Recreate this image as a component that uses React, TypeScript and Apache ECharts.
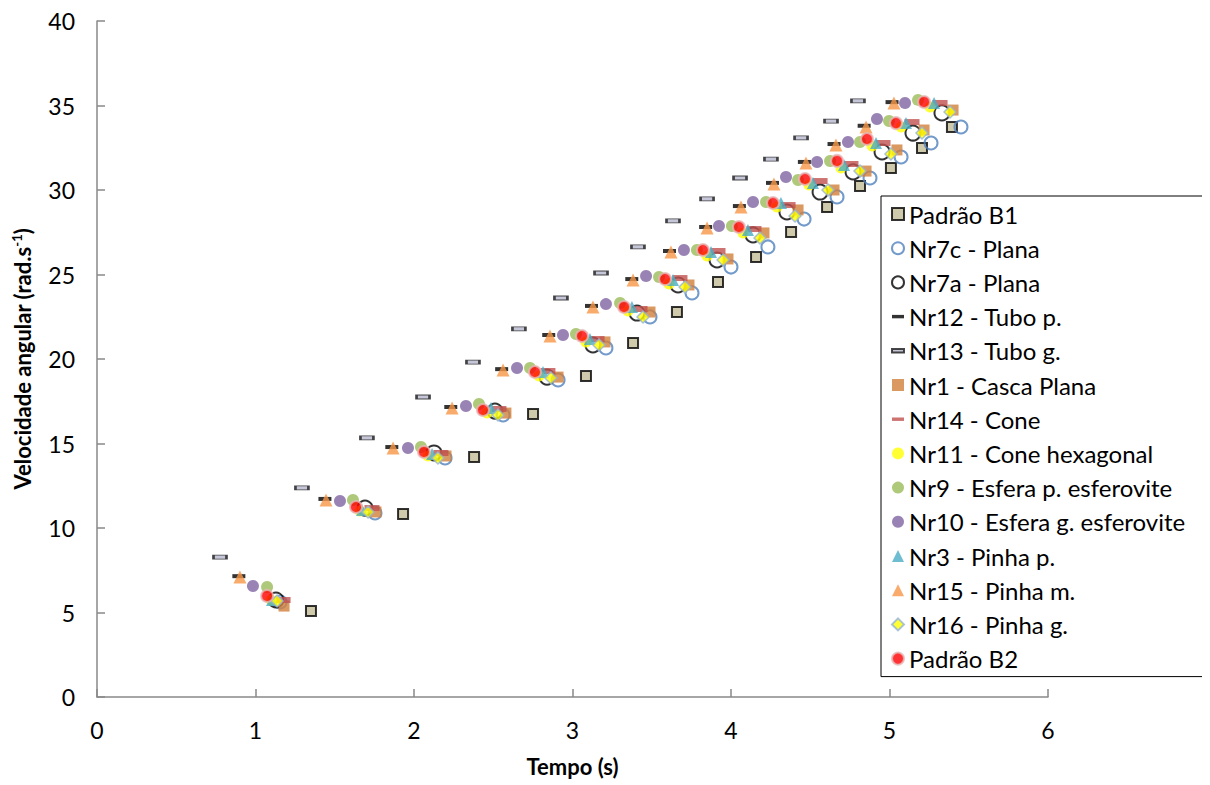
import React, { useEffect, useRef } from "react";
import * as echarts from "echarts";

const xTicks = [0, 1, 2, 3, 4, 5, 6];
const yTicks = [0, 5, 10, 15, 20, 25, 30, 35, 40];

const padraoB1 = [[1.35, 5.09], [1.931, 10.83], [2.379, 14.2], [2.751, 16.75], [3.085, 18.99], [3.382, 20.95], [3.659, 22.78], [3.918, 24.56], [4.158, 26.04], [4.379, 27.51], [4.606, 28.99], [4.814, 30.24], [5.009, 31.3], [5.205, 32.49], [5.394, 33.73]];
const nr7c = [[1.155, 5.62], [1.754, 10.89], [2.196, 14.14], [2.562, 16.69], [2.909, 18.76], [3.211, 20.65], [3.489, 22.49], [3.754, 23.91], [4.0, 25.44], [4.233, 26.63], [4.461, 28.28], [4.669, 29.59], [4.877, 30.71], [5.073, 31.95], [5.262, 32.78], [5.451, 33.73]];
const nr7a = [[1.129, 5.74], [1.691, 11.18], [2.126, 14.44], [2.511, 16.92], [2.839, 18.93], [3.129, 20.83], [3.407, 22.72], [3.666, 24.38], [3.912, 25.86], [4.139, 27.34], [4.353, 28.7], [4.562, 29.88], [4.77, 31.07], [4.953, 32.25], [5.148, 33.37], [5.331, 34.56]];
const nr12 = [[0.895, 7.15], [1.438, 11.72], [1.86, 14.79], [2.232, 17.16], [2.553, 19.4], [2.85, 21.42], [3.12, 23.14], [3.374, 24.73], [3.612, 26.39], [3.84, 27.81], [4.053, 29.05], [4.262, 30.42], [4.463, 31.66], [4.65, 32.72], [4.84, 33.8], [5.016, 35.2]];
const nr13 = [[0.776, 8.28], [1.293, 12.37], [1.703, 15.33], [2.057, 17.75], [2.372, 19.82], [2.662, 21.78], [2.927, 23.61], [3.18, 25.09], [3.413, 26.63], [3.634, 28.17], [3.849, 29.47], [4.057, 30.71], [4.252, 31.83], [4.442, 33.08], [4.631, 34.08], [4.801, 35.27]];
const nr1 = [[1.18, 5.38], [1.76, 10.95], [2.202, 14.26], [2.58, 16.8], [2.909, 18.93], [3.205, 21.01], [3.489, 22.78], [3.735, 24.38], [3.981, 25.92], [4.208, 27.46], [4.423, 28.82], [4.65, 30.0], [4.852, 31.12], [5.047, 32.37], [5.218, 33.55], [5.401, 34.73]];
const nr14 = [[1.174, 5.74], [1.735, 11.18], [2.17, 14.44], [2.536, 17.04], [2.845, 19.29], [3.155, 21.18], [3.426, 22.96], [3.678, 24.79], [3.918, 26.39], [4.145, 27.69], [4.36, 29.11], [4.562, 30.53], [4.757, 31.54], [4.959, 32.78], [5.142, 34.02], [5.319, 35.15]];
const nr11 = [[1.098, 5.74], [1.659, 11.0], [2.088, 14.26], [2.461, 16.8], [2.789, 19.0], [3.085, 21.0], [3.35, 22.84], [3.609, 24.44], [3.849, 26.09], [4.076, 27.46], [4.29, 29.0], [4.492, 30.3], [4.694, 31.3], [4.89, 32.6], [5.073, 33.73], [5.256, 34.91]];
const nr9 = [[1.073, 6.51], [1.615, 11.66], [2.044, 14.79], [2.41, 17.34], [2.732, 19.47], [3.022, 21.48], [3.3, 23.31], [3.546, 24.85], [3.785, 26.45], [4.006, 27.87], [4.221, 29.29], [4.423, 30.59], [4.625, 31.72], [4.814, 32.84], [4.997, 34.08], [5.18, 35.33]];
const nr10 = [[0.984, 6.57], [1.533, 11.6], [1.962, 14.73], [2.328, 17.22], [2.65, 19.47], [2.94, 21.42], [3.211, 23.25], [3.464, 24.91], [3.703, 26.45], [3.924, 27.87], [4.139, 29.29], [4.347, 30.77], [4.543, 31.66], [4.738, 32.84], [4.921, 34.2], [5.098, 35.15]];
const nr3 = [[1.104, 5.74], [1.672, 11.07], [2.114, 14.38], [2.486, 17.1], [2.814, 19.23], [3.11, 21.18], [3.375, 23.08], [3.634, 24.67], [3.874, 26.33], [4.107, 27.63], [4.315, 29.23], [4.517, 30.41], [4.713, 31.48], [4.915, 32.78], [5.104, 33.96], [5.281, 35.15]];
const nr15 = [[0.902, 7.1], [1.445, 11.66], [1.868, 14.73], [2.24, 17.1], [2.562, 19.35], [2.858, 21.36], [3.129, 23.08], [3.382, 24.67], [3.621, 26.33], [3.849, 27.75], [4.063, 28.99], [4.271, 30.36], [4.473, 31.6], [4.662, 32.66], [4.852, 33.73], [5.028, 35.15]];
const nr16 = [[1.136, 5.68], [1.71, 10.95], [2.151, 14.14], [2.53, 16.69], [2.864, 18.88], [3.167, 20.83], [3.445, 22.49], [3.71, 24.26], [3.95, 25.86], [4.183, 27.16], [4.404, 28.46], [4.612, 30.0], [4.814, 31.12], [5.009, 32.13], [5.205, 33.37], [5.382, 34.62]];
const padraoB2 = [[1.073, 5.98], [1.634, 11.24], [2.063, 14.5], [2.435, 16.98], [2.763, 19.23], [3.06, 21.36], [3.325, 23.08], [3.584, 24.73], [3.823, 26.45], [4.05, 27.81], [4.265, 29.23], [4.467, 30.65], [4.669, 31.72], [4.858, 33.02], [5.041, 33.96], [5.218, 35.21]];

const seriesNames = [
  "Padrão B1",
  "Nr7c - Plana",
  "Nr7a - Plana",
  "Nr12 - Tubo p.",
  "Nr13 - Tubo g.",
  "Nr1 - Casca Plana",
  "Nr14 - Cone",
  "Nr11 - Cone hexagonal",
  "Nr9 - Esfera p. esferovite",
  "Nr10 - Esfera g. esferovite",
  "Nr3 - Pinha p.",
  "Nr15 - Pinha m.",
  "Nr16 - Pinha g.",
  "Padrão B2",
];

const seriesData = [padraoB1, nr7c, nr7a, nr12, nr13, nr1, nr14, nr11, nr9, nr10, nr3, nr15, nr16, padraoB2];

const dashIcon = "path://M0,0 L14,0 L14,4 L0,4 Z";

const styles: any[] = [
  { symbol: "rect", symbolSize: 10, itemStyle: { color: "#c4bd97", borderColor: "#000", borderWidth: 2 } },
  { symbol: "circle", symbolSize: 13, itemStyle: { color: "rgba(255,255,255,0)", borderColor: "#4f81bd", borderWidth: 2 } },
  { symbol: "circle", symbolSize: 15, itemStyle: { color: "rgba(255,255,255,0)", borderColor: "#000", borderWidth: 2 } },
  { symbol: "rect", symbolSize: [13, 4], itemStyle: { color: "#000" }, icon: dashIcon },
  { symbol: "rect", symbolSize: [13, 4], itemStyle: { color: "#b8b8d0", borderColor: "#1a1a1a", borderWidth: 1.5 }, icon: dashIcon },
  { symbol: "rect", symbolSize: 11, itemStyle: { color: "#d2803b" } },
  { symbol: "rect", symbolSize: [15, 6], itemStyle: { color: "#c0504d" }, icon: dashIcon },
  { symbol: "circle", symbolSize: 11, itemStyle: { color: "#ffff00" } },
  { symbol: "circle", symbolSize: 12, itemStyle: { color: "#9bbb59" } },
  { symbol: "circle", symbolSize: 12, itemStyle: { color: "#8064a2" } },
  { symbol: "triangle", symbolSize: 12, itemStyle: { color: "#4bacc6" } },
  { symbol: "triangle", symbolSize: 13, itemStyle: { color: "#f79646" } },
  { symbol: "diamond", symbolSize: 12, itemStyle: { color: "#ffff00", borderColor: "#95b3d7", borderWidth: 1.5 } },
  { symbol: "circle", symbolSize: 12, itemStyle: { color: "#ff0000", borderColor: "#e6b9b8", borderWidth: 2 } },
];

const FONT = "Lato, 'Open Sans', sans-serif";

export default function App() {
  const ref = useRef<HTMLDivElement>(null);
  useEffect(() => {
    if (!ref.current) return;
    const chart = echarts.init(ref.current, undefined, { renderer: "svg" });
    const axisLine = { show: true, lineStyle: { color: "#898989", width: 1.5 } };
    chart.setOption({
      animation: false,
      backgroundColor: "#fff",
      textStyle: { fontFamily: FONT },
      grid: { left: 89, right: 154, top: 13, bottom: 88, containLabel: false, outerBoundsMode: "none" },
      xAxis: {
        type: "value",
        min: 0,
        max: 6,
        interval: 1,
        name: "Tempo (s)",
        nameLocation: "middle",
        nameGap: 58,
        nameTextStyle: { fontFamily: FONT, fontSize: 22, fontWeight: "bold", color: "#000" },
        axisLine,
        axisTick: { show: true, inside: true, length: 8, lineStyle: { color: "#898989", width: 1.5 } },
        axisLabel: { fontFamily: FONT, fontSize: 23, color: "#000", margin: 21, formatter: (v: number) => (xTicks.includes(v) ? String(v) : "") },
        splitLine: { show: false },
      },
      yAxis: {
        type: "value",
        min: 0,
        max: 40,
        interval: 5,
        name: "Velocidade angular (rad.s{sup|-1})",
        nameLocation: "middle",
        nameGap: 62,
        nameTextStyle: {
          fontFamily: FONT,
          fontSize: 22,
          fontWeight: "bold",
          color: "#000",
          rich: { sup: { fontFamily: FONT, fontSize: 13, fontWeight: "bold", color: "#000", verticalAlign: "top", padding: [0, 0, 12, 0] } },
        },
        axisLine,
        axisTick: { show: true, inside: true, length: 8, lineStyle: { color: "#898989", width: 1.5 } },
        axisLabel: { fontFamily: FONT, fontSize: 23, color: "#000", margin: 22, formatter: (v: number) => (yTicks.includes(v) ? String(v) : "") },
        splitLine: { show: false },
      },
      legend: {
        orient: "vertical",
        left: 873,
        top: 188,
        padding: [6, 20, 6, 10],
        itemWidth: 12,
        itemHeight: 12,
        itemGap: 10.2,
        backgroundColor: "#fff",
        borderColor: "#000",
        borderWidth: 1,
        textStyle: { fontFamily: FONT, fontSize: 24, color: "#000", lineHeight: 24 },
        data: seriesNames.map((n, i) => (styles[i].icon ? { name: n, icon: styles[i].icon } : { name: n })),
      },
      series: seriesNames.map((n, i) => ({
        name: n,
        type: "scatter",
        data: seriesData[i],
        symbol: styles[i].symbol,
        symbolSize: styles[i].symbolSize,
        itemStyle: styles[i].itemStyle,
        emphasis: { disabled: true },
      })),
    });
    return () => chart.dispose();
  }, []);
  return <div ref={ref} style={{ width: 1194, height: 777 }} />;
}
